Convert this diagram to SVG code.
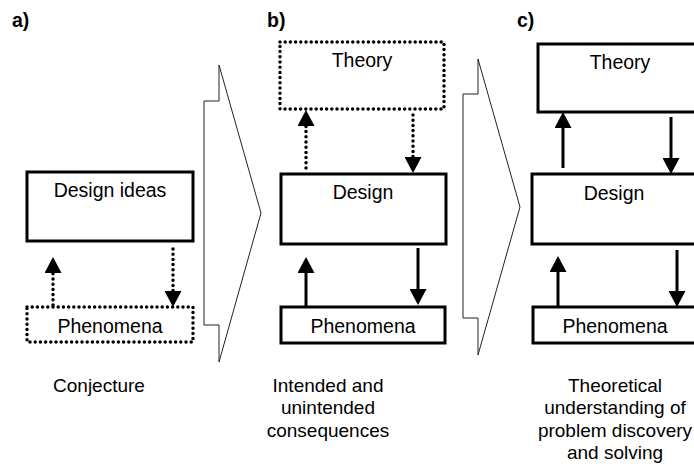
<svg xmlns="http://www.w3.org/2000/svg" width="694" height="475" viewBox="0 0 694 475">
<defs>
<marker id="ah" viewBox="0 0 16 17" refX="8" refY="8.5" markerWidth="16" markerHeight="17" markerUnits="userSpaceOnUse" orient="auto">
<path d="M0,0 L16,8.5 L0,17 Z" fill="#000"/>
</marker>
<style>
text{font-family:"Liberation Sans",Arial,sans-serif;font-size:19.5px;fill:#000;text-anchor:middle}
.lbl{font-weight:bold;text-anchor:start}
.box{fill:#fff;stroke:#000;stroke-width:3}
.dbox{fill:none;stroke:#000;stroke-width:3.5;stroke-dasharray:0 5.2;stroke-linecap:round}
.solid{stroke:#000;stroke-width:3;fill:none;marker-end:url(#ah)}
.dot{stroke:#000;stroke-width:3.5;fill:none;stroke-dasharray:0 5.2;stroke-linecap:round;marker-end:url(#ah)}
.big{fill:#fff;stroke:#222;stroke-width:1}
.cap{font-size:19px}
</style>
</defs>
<rect width="694" height="475" fill="#fff"/>
<g id="panel-labels">
<text class="lbl" x="12" y="27">a)</text>
<text class="lbl" x="267" y="27">b)</text>
<text class="lbl" x="517" y="27">c)</text>
</g>
<g id="big-arrows">
<path class="big" d="M219,65 L261,213 L219,362 L219,325 L204,325 L204,101 L219,101 Z"/>
<path class="big" d="M478,59 L520,207 L478,355 L478,318 L463,318 L463,94 L478,94 Z"/>
</g>
<g id="a-design">
<rect class="box" x="27" y="172" width="166" height="69"/>
<text x="110" y="197">Design ideas</text>
</g>
<g id="a-phenomena">
<rect class="dbox" x="27" y="307" width="166" height="35"/>
<text x="110" y="333">Phenomena</text>
</g>
<g id="b-theory">
<rect class="dbox" x="280" y="42" width="164" height="67"/>
<text x="362" y="67">Theory</text>
</g>
<g id="b-design">
<rect class="box" x="281" y="174" width="165" height="70"/>
<text x="363" y="199">Design</text>
</g>
<g id="b-phenomena">
<rect class="box" x="281" y="307" width="164" height="36"/>
<text x="363" y="333">Phenomena</text>
</g>
<g id="c-theory">
<rect class="box" x="538" y="44" width="165" height="68"/>
<text x="620" y="69">Theory</text>
</g>
<g id="c-design">
<rect class="box" x="532" y="174" width="165" height="70"/>
<text x="614" y="200">Design</text>
</g>
<g id="c-phenomena">
<rect class="box" x="533" y="307" width="165" height="36"/>
<text x="615" y="333">Phenomena</text>
</g>
<g id="connectors">
<path class="dot" d="M53,305 L53,265"/>
<path class="dot" d="M173,249 L173,299"/>
<path class="dot" d="M306,168 L306,118"/>
<path class="dot" d="M413,115 L413,165"/>
<path class="solid" d="M306,307 L306,265"/>
<path class="solid" d="M418,248 L418,297"/>
<path class="solid" d="M563,168 L563,120"/>
<path class="solid" d="M671,117 L671,166"/>
<path class="solid" d="M558,307 L558,264"/>
<path class="solid" d="M677,250 L677,299"/>
</g>
<g id="captions">
<text class="cap" x="99" y="392">Conjecture</text>
<text class="cap" x="328" y="392">Intended and</text>
<text class="cap" x="328" y="414">unintended</text>
<text class="cap" x="328" y="437">consequences</text>
<text class="cap" x="615" y="392">Theoretical</text>
<text class="cap" x="615" y="414">understanding of</text>
<text class="cap" x="615" y="437" font-size="18.5">problem discovery</text>
<text class="cap" x="615" y="459">and solving</text>
</g>
</svg>
